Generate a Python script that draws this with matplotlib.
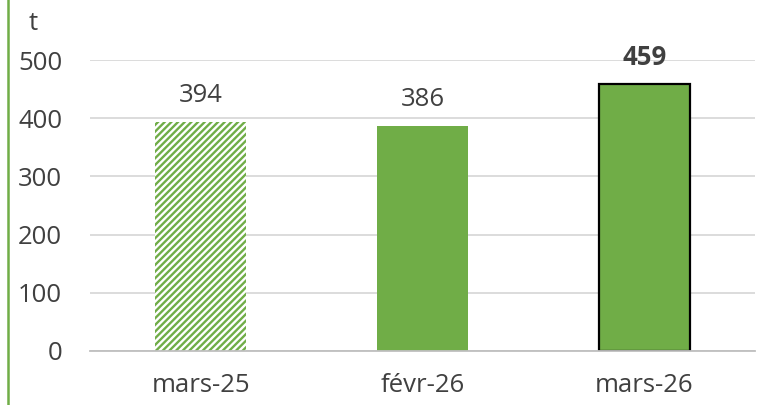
import matplotlib
matplotlib.use("Agg")
import matplotlib.pyplot as plt
from matplotlib.lines import Line2D

categories = ["mars-25", "févr-26", "mars-26"]
values = [394, 386, 459]
yticks = [0, 100, 200, 300, 400, 500]
unit = "t"

green = "#70AD47"
txt = "#404040"
grid = "#D9D9D9"

plt.rcParams['font.family'] = ['Open Sans', 'DejaVu Sans']
plt.rcParams['hatch.linewidth'] = 1.7
plt.rcParams['hatch.color'] = green

fig = plt.figure(figsize=(7.61, 4.05), dpi=100)
ax = fig.add_axes([90/761, 1-351/405, (755-90)/761, (351-60)/405])

x = list(range(len(categories)))
w = 0.41
ax.bar(x[0], values[0], width=w, color="white", edgecolor=green, hatch="/////", linewidth=0, zorder=3)
ax.bar(x[1], values[1], width=w, color=green, linewidth=0, zorder=3)
ax.bar(x[2], values[2], width=w, color=green, edgecolor="black", linewidth=1.6, zorder=3)

fs = 18.5
for i, v in enumerate(values):
    ax.annotate(str(v), (x[i], v), xytext=(0, 19), textcoords="offset points",
                ha="center", va="center", fontsize=fs, color=txt,
                fontweight="bold" if i == 2 else "normal", annotation_clip=False)

ax.set_xlim(-0.5, 2.5)
ax.set_ylim(0, 500)
ax.set_yticks(yticks)
ax.set_xticks(x)
ax.set_xticklabels(categories)
ax.yaxis.grid(True, color=grid, linewidth=1.3, zorder=0)
ax.set_axisbelow(True)
for s in ["left", "right", "top"]:
    ax.spines[s].set_visible(False)
ax.spines["bottom"].set_color("#BFBFBF")
ax.spines["bottom"].set_linewidth(1.3)
ax.spines["bottom"].set_zorder(4)
ax.tick_params(axis="both", length=0, labelsize=fs, labelcolor=txt)
ax.tick_params(axis="y", pad=20)
ax.tick_params(axis="x", pad=16)

fig.text(33/761, 1-24/405, unit, ha="center", va="center", fontsize=fs, color=txt)
fig.add_artist(Line2D([8/761, 8/761], [0, 1], color=green, linewidth=1.8, transform=fig.transFigure))

fig.savefig("out.png", dpi=100)
